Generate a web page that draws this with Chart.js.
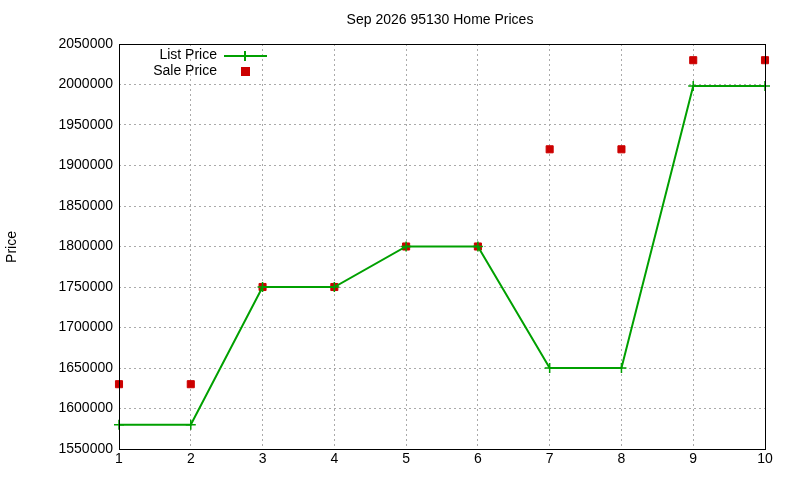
<!DOCTYPE html>
<html><head><meta charset="utf-8">
<script src="https://cdn.jsdelivr.net/npm/chart.js@4/dist/chart.umd.min.js"></script>
<style>html,body{margin:0;padding:0;background:#fff}#w{width:800px;height:480px}</style>
</head><body><div id="w"><canvas id="c"></canvas></div>
<script>
const months=[1,2,3,4,5,6,7,8,9,10];
const listPrice=[1580000,1580000,1750000,1750000,1800000,1800000,1650000,1650000,1998000,1998000];
const salePrice=[1630000,1630000,1750000,1750000,1800000,1800000,1920000,1920000,2030000,2030000];
const chartTitle="Sep 2026 95130 Home Prices";
const F="'Liberation Sans', Arial, sans-serif";
const deco={id:'deco',afterDraw(ch){const c=ch.ctx,a=ch.chartArea;c.save();
c.strokeStyle='#000';c.lineWidth=1;c.strokeRect(a.left+.5,a.top+.5,a.right-a.left,a.bottom-a.top);
c.fillStyle='#000';c.font='14px '+F;c.textAlign='center';c.textBaseline='middle';
c.fillText(chartTitle,440,20);
c.save();c.translate(12,247);c.rotate(-Math.PI/2);c.fillText('Price',0,0);c.restore();
c.textAlign='right';c.fillText('List Price',217,55);c.fillText('Sale Price',217,71);
c.strokeStyle='#00a000';c.lineWidth=2;c.beginPath();c.moveTo(224,56);c.lineTo(267,56);c.stroke();
c.beginPath();c.moveTo(245,51);c.lineTo(245,61);c.stroke();
c.fillStyle='#cc0000';c.fillRect(241,67,9,9);c.restore();}};
new Chart(document.getElementById('c'),{type:'scatter',
data:{datasets:[
{label:'List Price',data:months.map((m,i)=>({x:m,y:listPrice[i]})),showLine:true,clip:false,borderColor:'#00a000',backgroundColor:'#00a000',borderWidth:2,pointStyle:'cross',pointRadius:5,pointBorderWidth:1.5},
{label:'Sale Price',data:months.map((m,i)=>({x:m,y:salePrice[i]})),clip:false,pointStyle:'rect',pointRadius:5,backgroundColor:'#cc0000',borderColor:'#cc0000'}]},
options:{responsive:true,maintainAspectRatio:false,animation:false,
layout:{padding:{top:44,right:35,left:0,bottom:0}},
plugins:{legend:{display:false},tooltip:{enabled:false}},
scales:{
x:{type:'linear',min:1,max:10,afterFit(s){s.height=31},ticks:{stepSize:1,color:'#000',font:{family:F,size:14},padding:2},grid:{color:'#aaa',tickLength:0},border:{display:false,dash:[2,3]}},
y:{min:1550000,max:2050000,afterFit(s){s.width=119},ticks:{stepSize:50000,color:'#000',font:{family:F,size:14},padding:6,callback:v=>String(v)},grid:{color:'#aaa',tickLength:0},border:{display:false,dash:[2,3]}}
}},plugins:[deco]});
</script></body></html>
